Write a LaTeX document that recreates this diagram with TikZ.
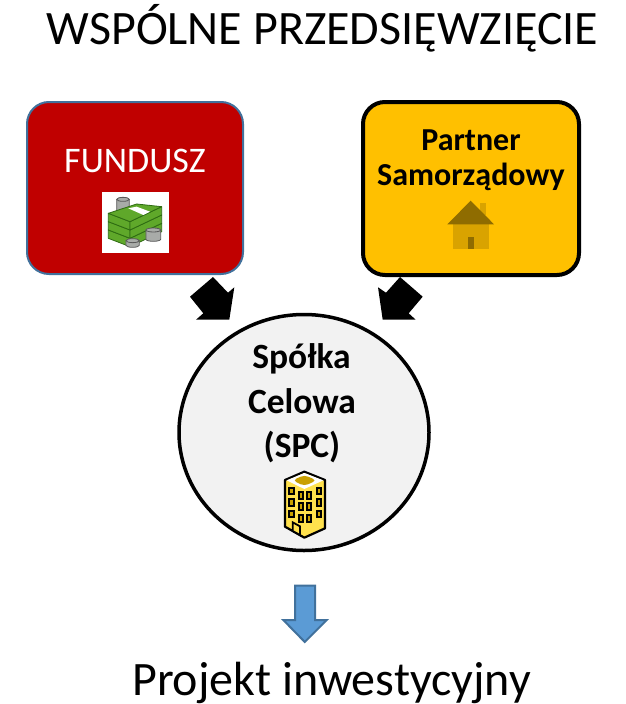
\documentclass[tikz,border=0pt]{standalone}
\usetikzlibrary{shapes.geometric}
\usepackage{fontspec}
\setmainfont{Carlito}
\definecolor{fundred}{HTML}{C00000}
\definecolor{fundblue}{HTML}{41719C}
\definecolor{partneryellow}{HTML}{FFC000}
\definecolor{circfill}{HTML}{F2F2F2}
\definecolor{arrowblue}{HTML}{5B9BD5}
\definecolor{roofgold}{HTML}{8F6C00}
\definecolor{bodygold}{HTML}{D9A300}
\definecolor{bldyellow}{HTML}{FFE14D}
\definecolor{bldgold}{HTML}{C9A000}
\definecolor{cashgreen}{HTML}{5FA82A}
\definecolor{cashdark}{HTML}{2E6B12}
\definecolor{coingrey}{HTML}{A8ABA8}
\tikzset{
  box/.style={rounded corners=22pt},
  blockarrow/.style={fill=black,draw=none},
  bigtext/.style={font=\fontsize{48}{54}\selectfont,inner sep=0pt,anchor=base},
  boxtext/.style={font=\fontsize{36}{42}\selectfont,inner sep=0pt,anchor=base,align=center},
  boldtext/.style={font=\fontsize{32}{38}\selectfont\bfseries,inner sep=0pt,anchor=base},
  circtext/.style={font=\fontsize{35.5}{40}\selectfont\bfseries,inner sep=0pt,anchor=base},
  cash/.style={fill=cashgreen,draw=cashdark,line width=0.8pt,line join=round},
  coin/.style={fill=coingrey,draw=black!65,line width=0.8pt},
  window/.style={fill=bldgold,draw=black,line width=1.8pt}
}
\newcommand{\coinstack}[4]{% cx, top y, bottom y, rx (zoom units)
  \draw[coin] (#1-#4,#2) -- (#1-#4,#3) arc[start angle=180,end angle=360,x radius=#4,y radius=-6] -- (#1+#4,#2);
  \draw[coin] (#1,#2) ellipse ({#4} and 6);
}
\begin{document}
\begin{tikzpicture}[x=1pt,y=-1pt]
\useasboundingbox (0,0) rectangle (625,704);
\node[bigtext] (title) at (322.5,44.5) {WSPÓLNE PRZEDSIĘWZIĘCIE};

% Boxes
\draw[box,fill=fundred,draw=fundblue,line width=2pt] (27,102) rectangle (243,274);
\draw[box,fill=partneryellow,draw=black,line width=4pt] (363,102) rectangle (579,275);
\node[boxtext,white] (fund) at (135,172) {FUNDUSZ};
\node[boldtext] (partnerA) at (471,150) {Partner};
\node[boldtext] (partnerB) at (471,185) {Samorządowy};

% Money icon
\fill[white] (102,192) rectangle (169,253);
\begin{scope}[shift={(90,180)},x=0.3333pt,y=-0.3333pt]
  \coinstack{99}{58}{95}{19}
  \foreach \d in {50,25,0}{
    \draw[cash] (55,100+\d) -- (120,125+\d) -- (120,150+\d) -- (55,125+\d) -- cycle;
    \draw[cash] (120,125+\d) -- (215,80+\d) -- (215,105+\d) -- (120,150+\d) -- cycle;
  }
  \draw[cash] (55,100) -- (140,72) -- (215,80) -- (120,125) -- cycle;
  \fill[white] (115,85) -- (140,80) -- (180,95) -- (160,105) -- cycle;
  \coinstack{190}{150}{178}{22}
  \coinstack{128}{182}{196}{20}
\end{scope}

% House icon
\fill[bodygold] (480,203.3) rectangle (485.7,215);
\fill[bodygold] (452.7,224.3) rectangle (489,248.7);
\fill[roofgold] (470.7,200.7) -- (494,224.3) -- (447.3,224.3) -- cycle;
\fill[roofgold] (467.7,236.7) rectangle (474,248.7);

% Ellipse
\node[ellipse,draw=black,fill=circfill,line width=3.5pt,minimum width=250pt,minimum height=236pt,inner sep=0pt] (spc) at (304,432.5) {};
\node[circtext] (spcA) at (301.5,368.5) {Spółka};
\node[circtext] (spcB) at (302,413) {Celowa};
\node[circtext] (spcC) at (302,457) {(SPC)};

% Building icon
\begin{scope}[shift={(270,465)},x=0.3333pt,y=-0.3333pt]
  \draw[fill=bldyellow,draw=black,line width=2.2pt,line join=round] (103,20) -- (165,45) -- (165,190) -- (103,218) -- (45,185) -- (45,45) -- cycle;
  \fill[white] (103,24) -- (160,46) -- (103,72) -- (50,46) -- cycle;
  \fill[bldgold,rounded corners=4pt] (103,30) -- (140,46) -- (103,63) -- (68,46) -- cycle;
  \foreach \x/\y in {65/78,65/112,65/147,93/92,93/125,93/160,117/92,117/125,117/160,147/78,147/112,147/147}{
    \draw[window] (\x-7,\y-10) rectangle (\x+7,\y+10);
  }
  \draw[fill=bldyellow,draw=black,line width=1.8pt] (68,172) -- (90,184) -- (90,210) -- (68,198) -- cycle;
\end{scope}

% Block arrows
\fill[blockarrow] (213,277) -- (228,292.7) -- (234.3,287.3) -- (229.3,319.7) -- (196,319.7) -- (203.3,313.3) -- (190,296.7) -- cycle;
\fill[blockarrow] (400,277) -- (422.7,296.7) -- (408.7,313.3) -- (415.7,319.7) -- (382.7,319.7) -- (378,287.3) -- (386,292.7) -- cycle;

% Down arrow
\draw[fill=arrowblue,draw=fundblue,line width=2pt,line join=miter] (295,585.5) -- (315,585.5) -- (315,620) -- (326.7,620) -- (304.8,642) -- (283.3,620) -- (295,620) -- cycle;

\node[bigtext] (proj) at (331.5,695) {Projekt inwestycyjny};
\end{tikzpicture}
\end{document}
